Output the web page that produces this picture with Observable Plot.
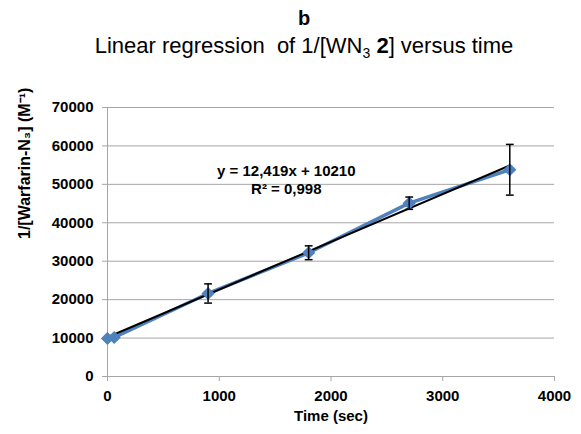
<!DOCTYPE html>
<html>
<head>
<meta charset="utf-8">
<script src="https://cdn.jsdelivr.net/npm/d3@7"></script>
<script src="https://cdn.jsdelivr.net/npm/@observablehq/plot@0.6"></script>
<style>
  html, body { margin: 0; padding: 0; background: #fff; }
  body { width: 581px; height: 434px; overflow: hidden; font-family: "Liberation Sans", Arial, sans-serif; }
  #head { width: 581px; box-sizing: border-box; padding-left: 27px; text-align: center; color: #000; }
  #t1 { font-weight: bold; font-size: 20px; line-height: 24px; padding-top: 6px; height: 24px; }
  #t2 { font-size: 22px; line-height: 26px; margin-top: 3px; height: 26px; }
  #t2 sub { font-size: 14px; line-height: 0; vertical-align: -5px; }
</style>
</head>
<body>
<div id="head">
  <div id="t1">b</div>
  <div id="t2">Linear regression&nbsp; of 1/[WN<sub>3</sub> <b>2</b>] versus time</div>
</div>
<div id="chart"></div>
<script>
// Data
const times = [0, 60, 900, 1800, 2700, 3600];                  // sec
const values = [9900, 10150, 21600, 32200, 45100, 53800];      // 1/[Warfarin-N3] (M^-1)
const errors = [0, 0, 2500, 1800, 1600, 6600];                 // error bar half-widths

// Trendline given on the chart: y = 12.419x + 10210
const slope = 12.419;
const intercept = 10210;
const trendRange = [0, 3600];

const equationLines = ["y = 12,419x + 10210", "R² = 0,998"];
const equationX = [1600, 1600];
const equationY = [53400, 48700];

const xTicks = [0, 1000, 2000, 3000, 4000];
const yTicks = [0, 10000, 20000, 30000, 40000, 50000, 60000, 70000];

const points = times.map((t, i) => ({t, v: values[i], e: errors[i]}));
const bars = points.filter(d => d.e > 0);
const trend = trendRange.map(t => ({t, v: slope * t + intercept}));
const eq = equationLines.map((s, i) => ({s, x: equationX[i], y: equationY[i]}));

const capSymbol = {
  draw(context, size) {
    const w = Math.sqrt(size);
    context.moveTo(-w, 0);
    context.lineTo(w, 0);
  }
};

const blue = "#4f81bd";
const grid = "#a6a6a6";

const chart = Plot.plot({
  width: 581,
  height: 374,
  marginLeft: 107,
  marginRight: 27,
  marginTop: 48,
  marginBottom: 57,
  style: {fontFamily: "'Liberation Sans', Arial, sans-serif", fontSize: "15px", fontWeight: "bold", color: "#000", background: "#fff"},
  x: {domain: [0, 4000], ticks: xTicks},
  y: {domain: [0, 70000], ticks: yTicks},
  marks: [
    Plot.gridY(yTicks, {stroke: grid, strokeOpacity: 1, strokeWidth: 1}),
    Plot.ruleX([0], {stroke: grid, strokeWidth: 1}),
    Plot.axisY(yTicks, {tickSize: 5, tickPadding: 9, stroke: grid, tickFormat: d => String(d), label: null}),
    Plot.axisX(xTicks, {tickSize: 5, tickPadding: 9, stroke: grid, tickFormat: d => String(d), label: null}),
    Plot.text(["1/[Warfarin-N₃] (M⁻¹)"], {frameAnchor: "left", dx: -83, dy: -3, rotate: -90, fontSize: 16, fontWeight: "bold", fill: "#000"}),
    Plot.text(["Time (sec)"], {frameAnchor: "bottom", dy: 44, fontSize: 15, fontWeight: "bold", fill: "#000"}),
    Plot.line(points, {x: "t", y: "v", stroke: blue, strokeWidth: 3.5}),
    Plot.line(trend, {x: "t", y: "v", stroke: "#000", strokeWidth: 2}),
    Plot.dot(points, {x: "t", y: "v", symbol: "diamond2", r: 5, fill: blue, stroke: blue}),
    Plot.ruleX(bars, {x: "t", y1: d => d.v - d.e, y2: d => d.v + d.e, stroke: "#000", strokeWidth: 1.5}),
    Plot.dot(bars, {x: "t", y: d => d.v + d.e, symbol: capSymbol, r: 2.2, stroke: "#000", strokeWidth: 1.5, fill: "none"}),
    Plot.dot(bars, {x: "t", y: d => d.v - d.e, symbol: capSymbol, r: 2.2, stroke: "#000", strokeWidth: 1.5, fill: "none"}),
    Plot.text(eq, {x: "x", y: "y", text: "s", fontSize: 15, fontWeight: "bold", fill: "#000"})
  ]
});
document.getElementById("chart").appendChild(chart);
</script>
</body>
</html>
